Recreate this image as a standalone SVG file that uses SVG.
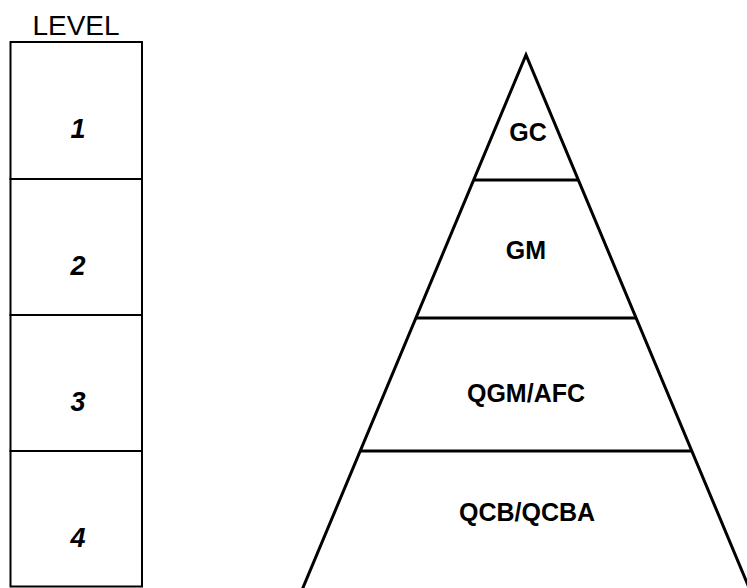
<svg xmlns="http://www.w3.org/2000/svg" width="747" height="588" viewBox="0 0 747 588">
<style>
.box{fill:none;stroke:#000;stroke-width:2}
.pyr{fill:none;stroke:#000;stroke-width:3;stroke-linejoin:miter}
.lvl{font-family:"Liberation Sans",Arial,sans-serif;font-size:28px;fill:#000;text-anchor:middle}
.num{font-family:"Liberation Sans",Arial,sans-serif;font-size:27px;font-weight:bold;font-style:italic;fill:#000;text-anchor:middle}
.lab{font-family:"Liberation Sans",Arial,sans-serif;font-size:25px;font-weight:bold;fill:#000;text-anchor:middle}
</style>
<rect width="747" height="588" fill="#fff"/>
<text class="lvl" x="76" y="35">LEVEL</text>
<g id="level-1"><rect class="box" x="10.5" y="42" width="131.5" height="137"/><text class="num" x="78" y="138">1</text></g>
<g id="level-2"><rect class="box" x="10.5" y="179" width="131.5" height="136"/><text class="num" x="78" y="275">2</text></g>
<g id="level-3"><rect class="box" x="10.5" y="315" width="131.5" height="136"/><text class="num" x="78" y="411">3</text></g>
<g id="level-4"><rect class="box" x="10.5" y="451" width="131.5" height="135.5"/><text class="num" x="78" y="547">4</text></g>
<g id="pyramid">
<polyline class="pyr" points="302,590 526,55 750,590"/>
</g>
<g id="connectors">
<line class="pyr" x1="473.5" y1="180" x2="578.5" y2="180"/>
<line class="pyr" x1="415.5" y1="318" x2="636.5" y2="318"/>
<line class="pyr" x1="360" y1="451" x2="692" y2="451"/>
</g>
<g id="tier-gc"><text class="lab" x="528" y="141">GC</text></g>
<g id="tier-gm"><text class="lab" x="526" y="259">GM</text></g>
<g id="tier-qgm"><text class="lab" x="526" y="402">QGM/AFC</text></g>
<g id="tier-qcb"><text class="lab" x="527" y="521">QCB/QCBA</text></g>
</svg>
